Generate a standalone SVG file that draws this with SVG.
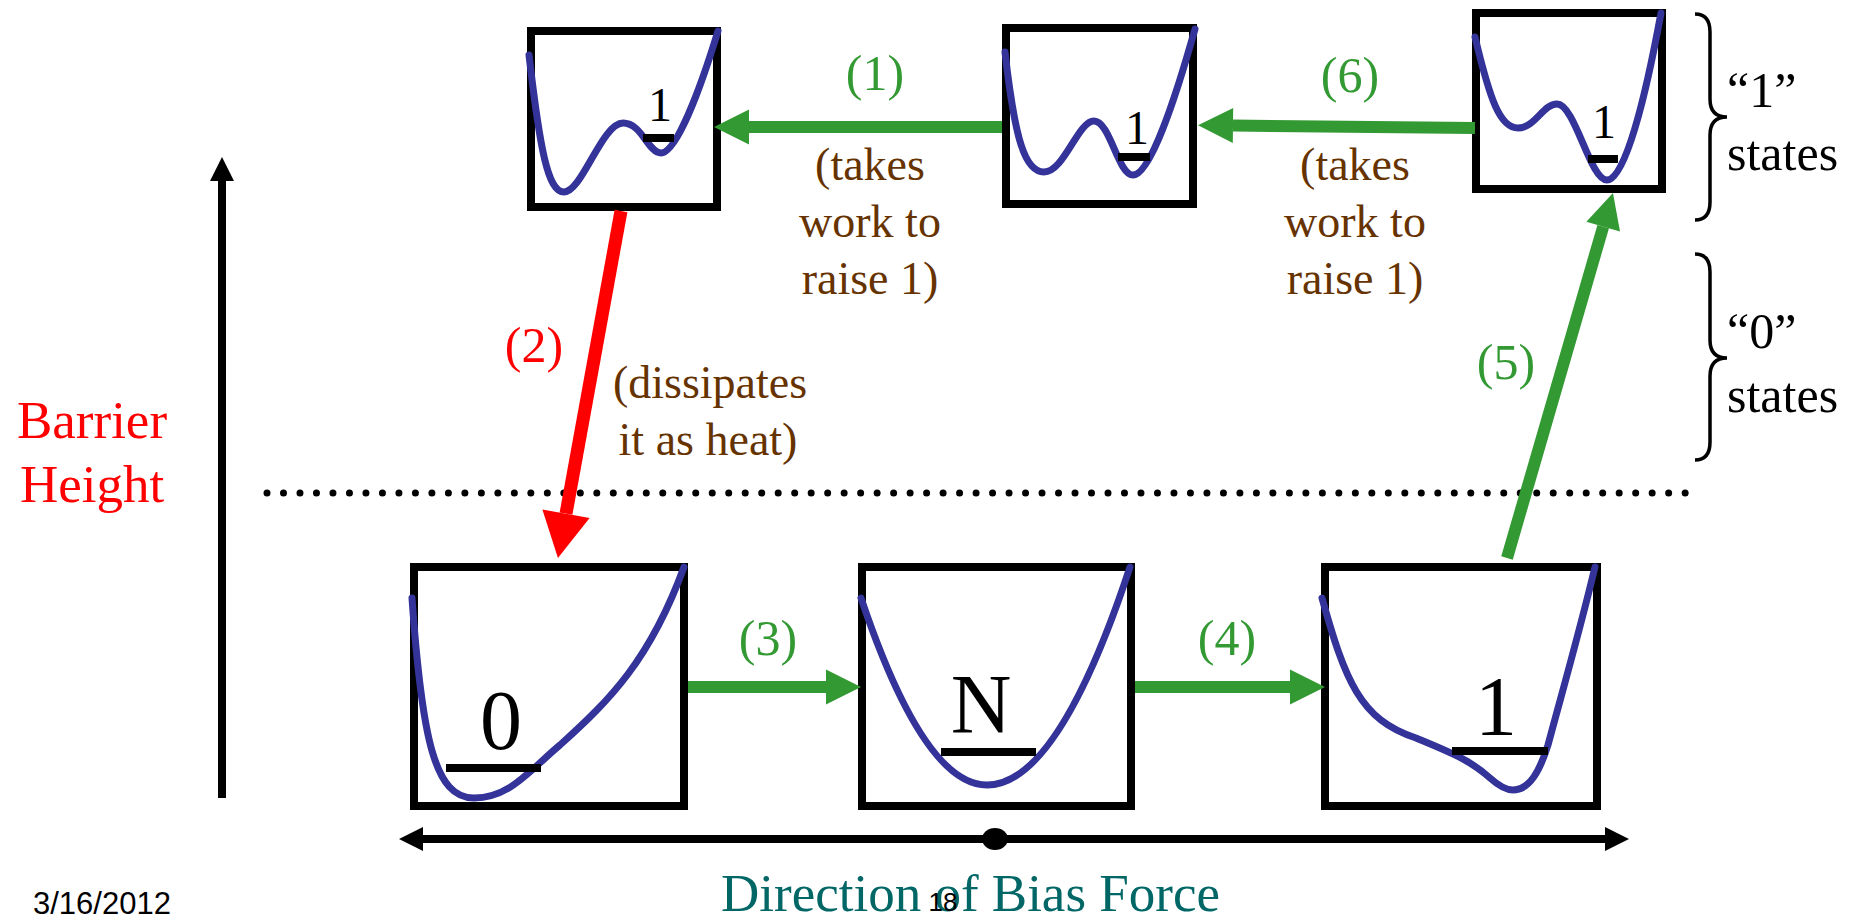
<svg xmlns="http://www.w3.org/2000/svg" width="1854" height="916" viewBox="0 0 1854 916">
<style>
.box{fill:#fff;stroke:#000;stroke-width:8}
.well{fill:none;stroke:#333399;stroke-width:7;stroke-linecap:round;stroke-linejoin:round}
.lvl{stroke:#000;stroke-width:8}
.serif{font-family:"Liberation Serif","Times New Roman",serif}
.sans{font-family:"Liberation Sans",Arial,sans-serif}
.gl{fill:#339933;font-size:50px;text-anchor:middle}
.br{fill:#663300;font-size:46px;text-anchor:middle}
.big{font-size:84px;text-anchor:middle;fill:#000}
.sm{font-size:48px;text-anchor:middle;fill:#000}
.st{font-size:50px;fill:#000}
.ga{stroke:#339933;stroke-width:12;fill:none}
</style>
<defs>
<marker id="mg" markerUnits="userSpaceOnUse" viewBox="0 -18 36 36" markerWidth="36" markerHeight="36" refX="0" refY="0" orient="auto" overflow="visible"><path d="M0,-17.5 L35,0 L0,17.5 z" fill="#339933"/></marker>
<marker id="mr" markerUnits="userSpaceOnUse" viewBox="0 -24 46 48" markerWidth="46" markerHeight="48" refX="0" refY="0" orient="auto" overflow="visible"><path d="M0,-24 L45,0 L0,24 z" fill="#ff0000"/></marker>
<marker id="mk" markerUnits="userSpaceOnUse" viewBox="0 -12 25 24" markerWidth="25" markerHeight="24" refX="0" refY="0" orient="auto-start-reverse" overflow="visible"><path d="M0,-12 L24,0 L0,12 z" fill="#000"/></marker>
</defs>

<!-- axes and guides -->
<g id="axes">
<line x1="222" y1="798" x2="222" y2="181" stroke="#000" stroke-width="8" marker-end="url(#mk)"/>
<line x1="267" y1="493" x2="1688" y2="493" stroke="#000" stroke-width="7" stroke-linecap="round" stroke-dasharray="0 16.49"/>
<line x1="423" y1="839" x2="1605" y2="839" stroke="#000" stroke-width="8" marker-start="url(#mk)" marker-end="url(#mk)"/>
<ellipse cx="995" cy="839" rx="13" ry="11" fill="#000"/>
</g>

<g id="labels-left">
<text class="serif" x="92" y="438" font-size="53" fill="#ff0000" text-anchor="middle">Barrier</text>
<text class="serif" x="92" y="502" font-size="53" fill="#ff0000" text-anchor="middle">Height</text>
</g>

<!-- nodes -->
<g id="box1">
<rect class="box" x="531" y="31" width="186" height="176"/>
<path class="well" d="M529,55 C540,150 548,192 564,192 C582,192 602,123 623,123 C642,123 648,153 661,153 C676,153 700,90 718,31"/>
<line class="lvl" x1="643" y1="138" x2="674" y2="138"/>
<text class="serif sm" x="660" y="121">1</text>
</g>
<g id="box2">
<rect class="box" x="1006" y="28" width="187" height="176"/>
<path class="well" d="M1005,52 C1015,140 1025,172 1044,172 C1064,172 1078,121 1094,121 C1110,121 1118,175 1133,175 C1150,175 1175,100 1195,29"/>
<line class="lvl" x1="1118" y1="157" x2="1150" y2="157"/>
<text class="serif sm" x="1137" y="144">1</text>
</g>
<g id="box3">
<rect class="box" x="1476" y="13" width="186" height="176"/>
<path class="well" d="M1475,37 C1490,100 1500,128 1518,128 C1535,128 1543,104 1557,104 C1575,104 1590,180 1607,180 C1625,180 1645,100 1661,13"/>
<line class="lvl" x1="1588" y1="159" x2="1618" y2="159"/>
<text class="serif sm" x="1604" y="138">1</text>
</g>
<g id="box4">
<rect class="box" x="414" y="567" width="270" height="239"/>
<path class="well" d="M412,598 C422,740 435,798 474,798 C510,798 530,770 560,745 C610,700 650,660 684,567"/>
<line class="lvl" x1="446" y1="768" x2="541" y2="768"/>
<text class="serif big" x="501" y="749">0</text>
</g>
<g id="box5">
<rect class="box" x="862" y="567" width="269" height="239"/>
<path class="well" d="M861,598 Q924,785 987,785 Q1058,785 1130,567"/>
<line class="lvl" x1="941" y1="752" x2="1036" y2="752"/>
<text class="serif big" x="981" y="733">N</text>
</g>
<g id="box6">
<rect class="box" x="1325" y="567" width="272" height="239"/>
<path class="well" d="M1322,598 C1345,680 1360,720 1416,738 C1450,752 1470,760 1490,778 C1500,787 1508,790 1513,790 C1530,790 1540,770 1548,745 C1560,700 1580,630 1595,567"/>
<line class="lvl" x1="1452" y1="751" x2="1548" y2="751"/>
<text class="serif big" x="1496" y="735">1</text>
</g>

<!-- connectors -->
<g id="connectors">
<line class="ga" x1="1002" y1="127" x2="749" y2="127" marker-end="url(#mg)"/>
<line class="ga" x1="1475" y1="128" x2="1233" y2="125.5" marker-end="url(#mg)"/>
<line class="ga" x1="688" y1="687" x2="826" y2="687" marker-end="url(#mg)"/>
<line class="ga" x1="1135" y1="687" x2="1290" y2="687" marker-end="url(#mg)"/>
<line class="ga" x1="1507" y1="558" x2="1603.2" y2="226.6" marker-end="url(#mg)"/>
<line x1="621" y1="211" x2="566" y2="513.7" stroke="#ff0000" stroke-width="13" marker-end="url(#mr)"/>
</g>

<g id="connector-labels">
<text class="serif gl" x="875" y="90">(1)</text>
<text class="serif gl" x="1350" y="92">(6)</text>
<text class="serif gl" x="534" y="362" style="fill:#ff0000">(2)</text>
<text class="serif gl" x="1506" y="379">(5)</text>
<text class="serif gl" x="768" y="655">(3)</text>
<text class="serif gl" x="1227" y="655">(4)</text>
<text class="serif br" x="870" y="180">(takes</text>
<text class="serif br" x="870" y="237">work to</text>
<text class="serif br" x="870" y="294">raise 1)</text>
<text class="serif br" x="1355" y="180">(takes</text>
<text class="serif br" x="1355" y="237">work to</text>
<text class="serif br" x="1355" y="294">raise 1)</text>
<text class="serif br" x="710" y="398">(dissipates</text>
<text class="serif br" x="708" y="455">it as heat)</text>
</g>

<g id="braces">
<path d="M1695,14 Q1710,14 1710,32 L1710,99 Q1710,117 1727,117 Q1710,117 1710,135 L1710,202 Q1710,220 1695,220" fill="none" stroke="#000" stroke-width="3.5"/>
<path d="M1695,254 Q1710,254 1710,272 L1710,340 Q1710,358 1727,358 Q1710,358 1710,376 L1710,442 Q1710,460 1695,460" fill="none" stroke="#000" stroke-width="3.5"/>
<text class="serif st" x="1727" y="107">“1”</text>
<text class="serif st" x="1727" y="170">states</text>
<text class="serif st" x="1727" y="348">“0”</text>
<text class="serif st" x="1727" y="412">states</text>
</g>

<g id="footer">
<text class="serif" x="721" y="911" font-size="53" fill="#006666">Direction of Bias Force</text>
<text class="sans" x="943" y="911" font-size="26" fill="#000" text-anchor="middle">18</text>
<text class="sans" x="33" y="914" font-size="31" fill="#000">3/16/2012</text>
</g>
</svg>
